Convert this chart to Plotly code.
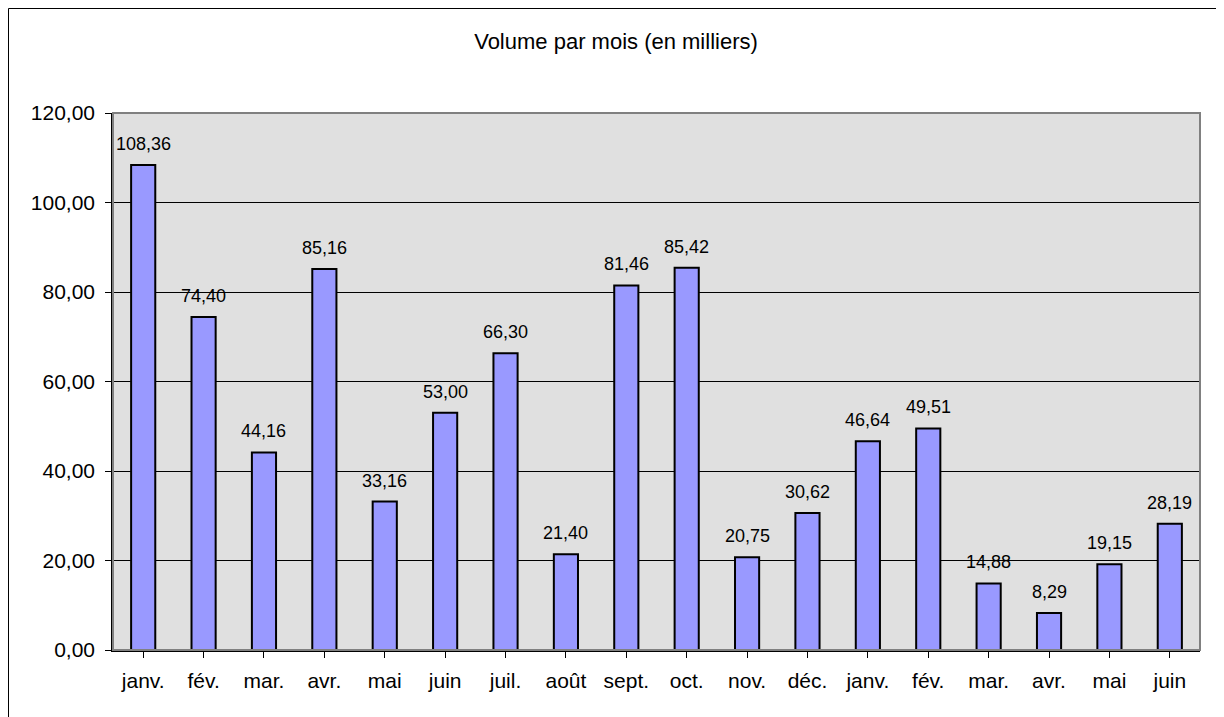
import plotly.graph_objects as go

months = ["janv.", "fév.", "mar.", "avr.", "mai", "juin", "juil.", "août", "sept.", "oct.",
          "nov.", "déc.", "janv.", "fév.", "mar.", "avr.", "mai", "juin"]
values = [108.36, 74.40, 44.16, 85.16, 33.16, 53.00, 66.30, 21.40, 81.46, 85.42,
          20.75, 30.62, 46.64, 49.51, 14.88, 8.29, 19.15, 28.19]
tick_vals = [0, 20, 40, 60, 80, 100, 120]
title_text = "Volume par mois (en milliers)"

FONT = "Liberation Sans, Arial, sans-serif"
idx = list(range(len(months)))

fig = go.Figure()
fig.add_trace(go.Bar(
    x=idx, y=values, width=0.4,
    marker=dict(color="#9999ff", line=dict(color="black", width=2)),
    hoverinfo="skip",
))

for i, v in zip(idx, values):
    fig.add_annotation(x=i, y=v, text=f"{v:.2f}".replace(".", ","), showarrow=False,
                       yanchor="bottom", yshift=9, font=dict(family=FONT, size=18, color="black"))

# page has an 8px body margin; figure sized to fit inside 1224x717
W, H = 1216, 709
L, R, T, B = 105, 24, 105, 67
pw, ph = W - L - R, H - T - B

def px2x(p):
    return (p - L) / pw

def px2y(p):
    return (H - B - p) / ph

fig.add_shape(type="rect", xref="paper", yref="paper", x0=px2x(0.5), x1=px2x(1211),
              y0=px2y(714), y1=px2y(0.5), line=dict(color="black", width=1), layer="below")
fig.add_shape(type="rect", xref="paper", yref="paper", x0=0, x1=1, y0=0, y1=1,
              line=dict(color="#808080", width=2), layer="above")

fig.update_layout(
    width=W, height=H,
    margin=dict(l=L, r=R, t=T, b=B),
    paper_bgcolor="white", plot_bgcolor="#e0e0e0",
    font=dict(family=FONT, size=21, color="black"),
    separators=", ",
    showlegend=False,
    title=dict(text=title_text, x=0.5, xref="container", xanchor="center",
               y=1 - 33 / H, yref="container", yanchor="middle",
               font=dict(family=FONT, size=22, color="black")),
)
fig.update_xaxes(
    range=[-0.5, len(months) - 0.5],
    tickmode="array", tickvals=idx, ticktext=months,
    tickson="boundaries", ticks="outside", ticklen=6, tickcolor="black", tickwidth=1,
    showline=True, linecolor="black", linewidth=1.5,
    showgrid=False, zeroline=False, ticklabelstandoff=5,
    tickfont=dict(family=FONT, size=21, color="black"),
)
fig.update_yaxes(
    range=[0, 120], tickvals=tick_vals, tickformat=".2f",
    ticks="outside", ticklen=6, tickcolor="black", tickwidth=1,
    showline=True, linecolor="black", linewidth=1.5,
    showgrid=True, gridcolor="black", gridwidth=1, zeroline=False,
    ticklabelstandoff=6,
    tickfont=dict(family=FONT, size=21, color="black"),
)

fig.write_html("out.html")
